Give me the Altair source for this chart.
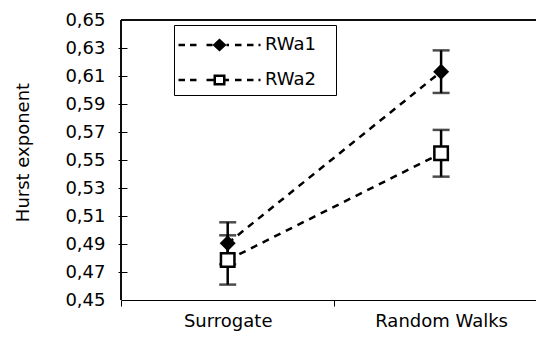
import altair as alt
import pandas as pd

# ---- data ----
categories = ["Surrogate", "Random Walks"]
series = ["RWa1", "RWa2"]
rwa1_mean = [0.4905, 0.6131]
rwa1_err = [0.0150, 0.0152]
rwa2_mean = [0.4786, 0.5548]
rwa2_err = [0.0176, 0.0167]
y_ticks = [0.45, 0.47, 0.49, 0.51, 0.53, 0.55, 0.57, 0.59, 0.61, 0.63, 0.65]
y_title = "Hurst exponent"

rows = []
for s, means, errs in [("RWa1", rwa1_mean, rwa1_err), ("RWa2", rwa2_mean, rwa2_err)]:
    for i, (c, m, e) in enumerate(zip(categories, means, errs)):
        rows.append(dict(series=s, category=c, pos=i, mean=m, lo=m - e, hi=m + e))
df = pd.DataFrame(rows)

FONT = "DejaVu Sans"
W, H = 415, 280
STEP = 213.4
x_domain = [-0.5, -0.5 + W / STEP]
y_domain = [y_ticks[0], y_ticks[-1]]

x_scale = alt.Scale(domain=x_domain, nice=False, zero=False)
y_scale = alt.Scale(domain=y_domain, nice=False, zero=False)

x_label_expr = " : ".join(
    [f"datum.value == {i} ? '{c}'" for i, c in enumerate(categories)] + ["''"]
)
x_axis = alt.Axis(
    values=[-0.5, 0, 0.5, 1], labelExpr=x_label_expr, title=None, grid=False,
    tickSize=6, tickColor="black", domainColor="black", labelFont=FONT,
    labelFontSize=18, labelColor="black", labelPadding=6, labelOverlap=False,
    labelFlush=False,
    tickOpacity={"condition": {"test": "datum.value == 0 || datum.value == 1", "value": 0}, "value": 1},
)
y_axis = alt.Axis(
    values=y_ticks, labelExpr="replace(format(datum.value, '.2f'), '.', ',')",
    title=y_title, grid=False, domain=False, offset=-6, tickSize=9,
    tickColor="black", labelFont=FONT, labelFontSize=18, labelColor="black",
    labelPadding=13, titleFont=FONT, titleFontSize=18, titleFontWeight="normal",
    titleColor="black", titlePadding=32, titleY=132,
    tickOpacity={"condition": {"test": "datum.value > 0.645 || datum.value < 0.455", "value": 0}, "value": 1},
)

def X():
    return alt.X("pos:Q", scale=x_scale, axis=x_axis)

def Y(field):
    return alt.Y(f"{field}:Q", scale=y_scale, axis=y_axis)

base = alt.Chart(df)

left_line = alt.Chart(df).mark_rule(color="black", strokeWidth=1).encode(
    x=alt.XDatum(datum=x_domain[0], scale=x_scale, axis=x_axis)
)
top_line = alt.Chart(df).mark_rule(color="black", strokeWidth=1).encode(
    y=alt.YDatum(datum=y_domain[1], scale=y_scale, axis=y_axis)
)

lines = base.mark_line(color="black", strokeWidth=2.5, strokeDash=[7, 6]).encode(
    x=X(), y=Y("mean"), detail="series:N"
)
err_rule = base.mark_rule(color="black", strokeWidth=2.5).encode(
    x=X(), y=Y("lo"), y2="hi:Q"
)
cap_lo = base.mark_tick(color="black", orient="horizontal", size=17, thickness=2.5).encode(
    x=X(), y=Y("lo")
)
cap_hi = base.mark_tick(color="black", orient="horizontal", size=17, thickness=2.5).encode(
    x=X(), y=Y("hi")
)
pts1 = base.transform_filter(alt.datum.series == series[0]).mark_point(
    shape="diamond", filled=True, size=256, color="black", opacity=1
).encode(x=X(), y=Y("mean"))
pts2 = base.transform_filter(alt.datum.series == series[1]).mark_point(
    shape="square", filled=True, size=182, fill="white", stroke="black",
    strokeWidth=2.5, opacity=1
).encode(x=X(), y=Y("mean"))


# legend symbols: dashed line with marker, as custom paths (pixel units, size=4)
def rect(x0, x1, h=1.3):
    return f"M{x0},{-h}L{x1},{-h}L{x1},{h}L{x0},{h}Z"

def dashes(marker_half):
    segs = [(-41, -34.5), (-29.5, -23), (-13, -marker_half), (marker_half, 9.5),
            (15.5, 22), (27.5, 34), (39, 41)]
    return "".join(rect(a, b) for a, b in segs)

diamond_path = dashes(7) + "M0,-6.5L7,0L0,6.5L-7,0Z"
square_path = dashes(6) + "M-6,-5.5L6,-5.5L6,5.5L-6,5.5Z" + "M-3.5,-3L-3.5,3L3.5,3L3.5,-3Z"

legend_layer = base.mark_point(filled=True, opacity=0, size=4, color="black").encode(
    x=X(), y=Y("mean"),
    shape=alt.Shape(
        "series:N",
        scale=alt.Scale(domain=series, range=[diamond_path, square_path]),
        legend=alt.Legend(
            orient="none", legendX=53, legendY=5, title=" ", titleFontSize=1,
            titlePadding=4, padding=6, rowPadding=17, symbolSize=4,
            symbolStrokeWidth=0, symbolFillColor="black", symbolStrokeColor="black",
            symbolOpacity=1, symbolOffset=30.5, labelOffset=36.5, labelFont=FONT,
            labelFontSize=18, labelColor="black",
            labelExpr="datum.label + '\u2800'",
            strokeColor="black", fillColor="white",
        ),
    ),
)

chart = alt.layer(
    left_line, top_line, lines, err_rule, cap_lo, cap_hi, pts1, pts2, legend_layer
).properties(
    width=W, height=H,
    autosize=alt.AutoSizeParams(type="none"),
    padding={"left": 113, "top": 12, "right": 0, "bottom": 35},
).configure_view(stroke=None).configure(font=FONT)

chart.save("out.html", embed_options={"renderer": "svg", "actions": False})
